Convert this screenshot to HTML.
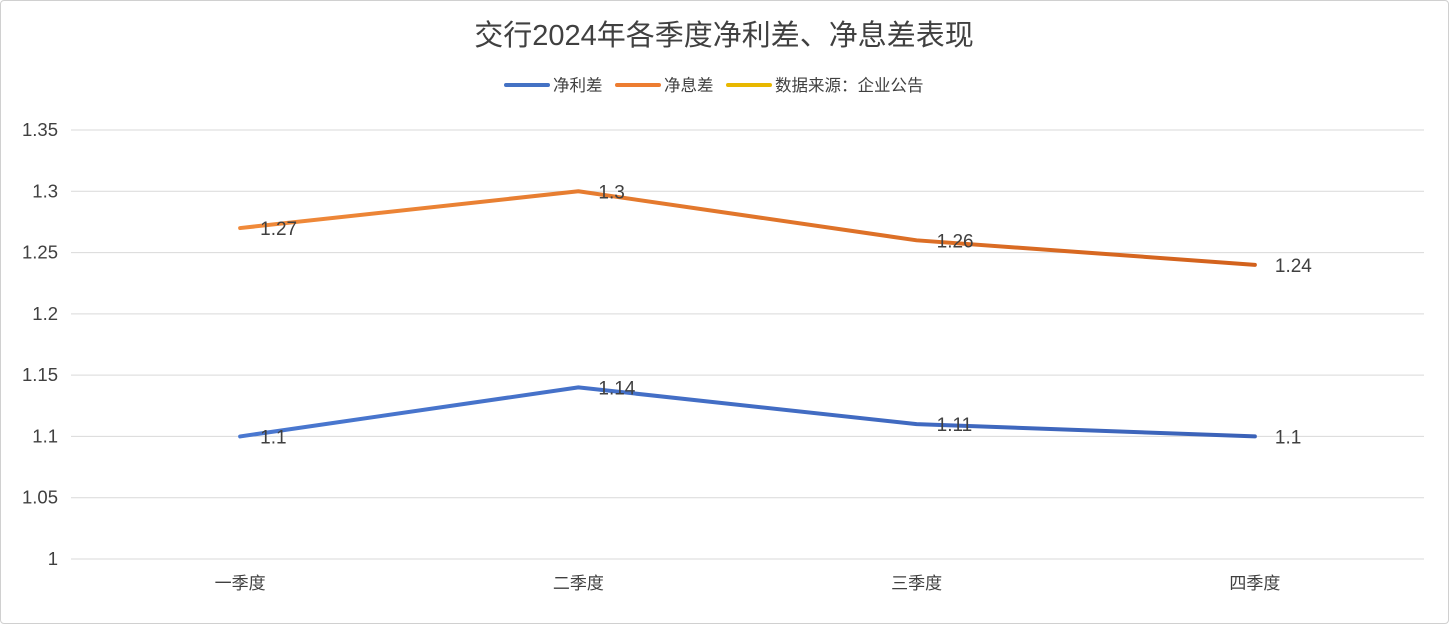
<!DOCTYPE html>
<html><head><meta charset="utf-8"><style>
body{margin:0;background:#fff;font-family:"Liberation Sans","Noto Sans CJK SC",sans-serif;}
#wrap{position:relative;width:1447px;height:622px;border:1px solid #d0d0d0;border-radius:4px;overflow:hidden;}
</style></head><body>
<div id="wrap">
<svg id="chart" width="1447" height="622">
<defs>
<linearGradient id="gb" x1="0" x2="1"><stop offset="0" stop-color="#4a78d0"/><stop offset="1" stop-color="#3b62b8"/></linearGradient>
<linearGradient id="go" x1="0" x2="1"><stop offset="0" stop-color="#f08a3a"/><stop offset="1" stop-color="#d2611c"/></linearGradient>
</defs>
<text x="723" y="44" text-anchor="middle" font-size="29" fill="#404040">交行2024年各季度净利差、净息差表现</text>
<g id="legend" font-size="16.5" fill="#404040">
<line x1="505" y1="84" x2="547" y2="84" stroke="#4472c4" stroke-width="4" stroke-linecap="round"/>
<text x="552" y="90">净利差</text>
<line x1="616" y1="84" x2="658" y2="84" stroke="#ed7d31" stroke-width="4" stroke-linecap="round"/>
<text x="663" y="90">净息差</text>
<line x1="727" y1="84" x2="769" y2="84" stroke="#e8b800" stroke-width="4" stroke-linecap="round"/>
<text x="774" y="90">数据来源：企业公告</text>
</g>
<g id="grid"></g><g id="yticks"></g><g id="xticks"></g><g id="series"></g>
</svg>
</div>
<script>
const categories=["一季度","二季度","三季度","四季度"];
const spreadValues=[1.1,1.14,1.11,1.1];
const marginValues=[1.27,1.3,1.26,1.24];
const yTicks=[1,1.05,1.1,1.15,1.2,1.25,1.3,1.35];
const yTickLabels=["1","1.05","1.1","1.15","1.2","1.25","1.3","1.35"];
const NS="http://www.w3.org/2000/svg";
const left=70,right=1423,y0=558,y1=129,vmin=1,vmax=1.35;
function yScale(v){return y0-(v-vmin)/(vmax-vmin)*(y0-y1);}
function xScale(i){const step=(right-left)/categories.length;return left+step*(i+0.5);}
function mk(tag,attrs,parent){const e=document.createElementNS(NS,tag);for(const k in attrs)e.setAttribute(k,attrs[k]);parent.appendChild(e);return e;}
const grid=document.getElementById('grid'),yt=document.getElementById('yticks'),xt=document.getElementById('xticks'),ser=document.getElementById('series');
yTicks.forEach((v,i)=>{
 const l=mk('line',{x1:left,x2:right,y1:yScale(v),y2:yScale(v),stroke:'#d9d9d9','stroke-width':1},grid);
 
 
 const t=mk('text',{x:57,y:yScale(v)+6,'text-anchor':'end','font-size':18.5,fill:'#404040'},yt);
 t.textContent=yTickLabels[i];
 
 
});
categories.forEach((c,i)=>{
 const t=mk('text',{x:xScale(i),y:588,'text-anchor':'middle','font-size':17,fill:'#404040'},xt);
 t.textContent=c;
 
 
});
function drawSeries(vals,grad,name){
 const pts=vals.map((v,i)=>xScale(i)+','+yScale(v)).join(' ');
 const p=mk('polyline',{points:pts,fill:'none',stroke:'url(#'+grad+')','stroke-width':4,'stroke-linejoin':'round','stroke-linecap':'round'},ser);
 
 
 vals.forEach((v,i)=>{
  const t=mk('text',{x:xScale(i)+20,y:yScale(v)+7,'font-size':19,fill:'#404040'},ser);
  t.textContent=String(v);
  
  
 });
}
drawSeries(marginValues,'go','net-interest-margin');
drawSeries(spreadValues,'gb','net-interest-spread');
</script>
</body></html>
